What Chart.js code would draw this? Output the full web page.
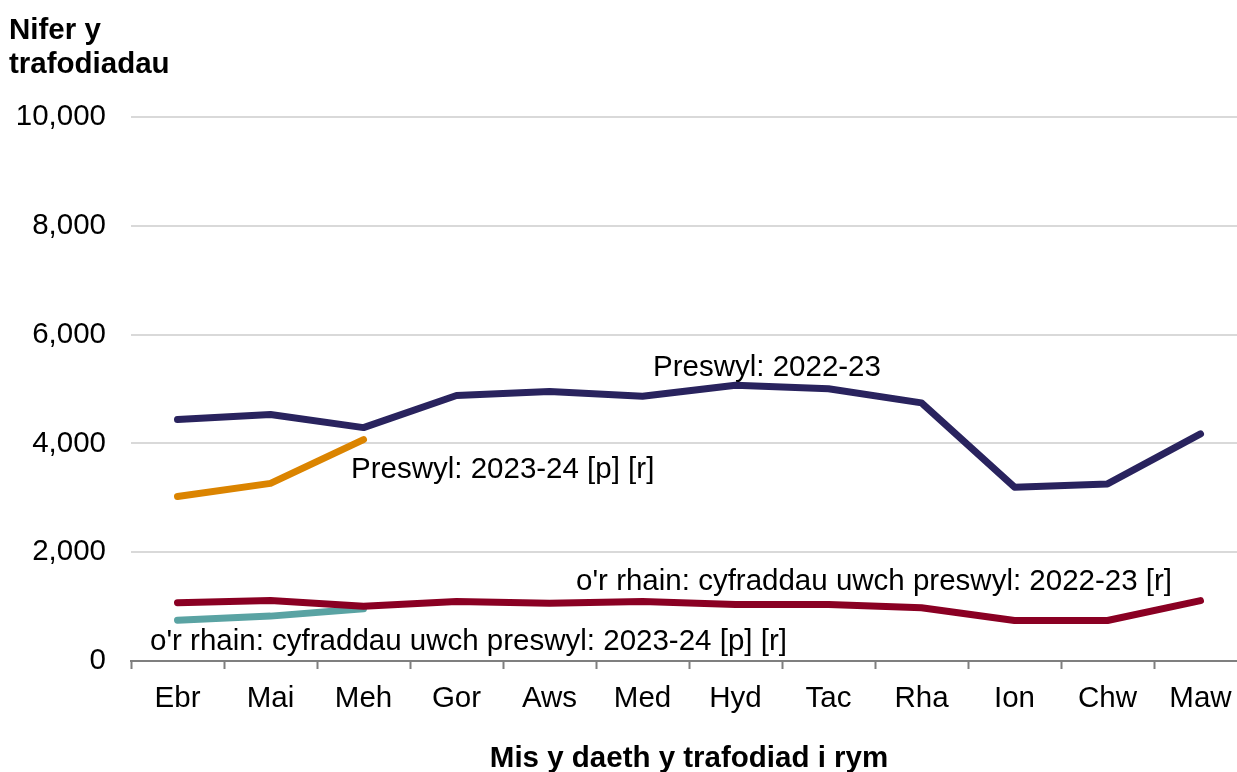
<!DOCTYPE html>
<html>
<head>
<meta charset="utf-8">
<script src="https://cdn.jsdelivr.net/npm/chart.js@4"></script>
<style>
  html, body { margin: 0; padding: 0; overflow: hidden; background: #fff; }
  #wrap { width: 1250px; height: 772px; }
</style>
</head>
<body>
<div id="wrap"><canvas id="chart" width="1250" height="772"></canvas></div>
<script>
// Months (Welsh abbreviations)
const months = ['Ebr', 'Mai', 'Meh', 'Gor', 'Aws', 'Med', 'Hyd', 'Tac', 'Rha', 'Ion', 'Chw', 'Maw']

// Series values
const preswyl2223 = [4440, 4530, 4290, 4880, 4955, 4865, 5070, 5005, 4745, 3195, 3255, 4175]
const preswyl2324 = [3025, 3265, 4070, null, null, null, null, null, null, null, null, null]
const uwch2223 = [1070, 1110, 1005, 1095, 1060, 1095, 1040, 1040, 980, 745, 745, 1110]
const uwch2324 = [750, 825, 960, null, null, null, null, null, null, null, null, null]

const yTicks = [0, 2000, 4000, 6000, 8000, 10000]

const FONT = 'Arial, "Liberation Sans", sans-serif'
const SIZE = 29.5

// Series labels placed next to the lines
const lineLabels = {
  id: 'lineLabels',
  afterDraw(chart) {
    const ctx = chart.ctx
    ctx.save()
    ctx.font = SIZE + 'px ' + FONT
    ctx.fillStyle = '#000'
    ctx.textBaseline = 'alphabetic'
    ctx.textAlign = 'left'
    ctx.fillText('Preswyl: 2022-23', 653, 376)
    ctx.fillText('Preswyl: 2023-24 [p] [r]', 351, 478)
    ctx.fillText("o'r rhain: cyfraddau uwch preswyl: 2023-24 [p] [r]", 150, 650)
    ctx.textAlign = 'right'
    ctx.fillText("o'r rhain: cyfraddau uwch preswyl: 2022-23 [r]", 1172, 590)
    // y axis title
    ctx.font = 'bold ' + SIZE + 'px ' + FONT
    ctx.textAlign = 'left'
    ctx.fillText('Nifer y', 9, 39)
    ctx.fillText('trafodiadau', 9, 73)
    ctx.restore()
  }
}

const lineStyle = {
  borderWidth: 7,
  pointRadius: 0,
  tension: 0,
  borderCapStyle: 'round',
  borderJoinStyle: 'round',
  spanGaps: false
}

new Chart(document.getElementById('chart'), {
  type: 'line',
  data: {
    labels: months,
    datasets: [
      { label: 'Preswyl: 2022-23', data: preswyl2223, borderColor: '#29235E', ...lineStyle },
      { label: 'Preswyl: 2023-24 [p] [r]', data: preswyl2324, borderColor: '#DB8400', ...lineStyle },
      { label: "o'r rhain: cyfraddau uwch preswyl: 2022-23 [r]", data: uwch2223, borderColor: '#8A0023', ...lineStyle },
      { label: "o'r rhain: cyfraddau uwch preswyl: 2023-24 [p] [r]", data: uwch2324, borderColor: '#5AA3A3', ...lineStyle }
    ]
  },
  options: {
    responsive: false,
    animation: false,
    layout: { padding: { top: 117, right: 3, left: 0, bottom: 0 } },
    plugins: {
      legend: { display: false },
      tooltip: { enabled: false }
    },
    scales: {
      x: {
        offset: true,
        grid: {
          offset: true,
          drawOnChartArea: false,
          drawTicks: true,
          tickLength: 8,
          tickWidth: 2,
          tickColor: '#7f7f7f'
        },
        border: { display: true, color: '#7f7f7f', width: 2 },
        ticks: {
          color: '#000',
          font: { family: FONT, size: SIZE },
          padding: 12,
          maxRotation: 0,
          autoSkip: false
        },
        title: {
          display: true,
          text: 'Mis y daeth y trafodiad i rym',
          color: '#000',
          font: { family: FONT, size: SIZE, weight: 'bold' },
          padding: { top: 0, bottom: -5 }
        },
        afterFit(scale) { scale.height = 111 }
      },
      y: {
        min: 0,
        max: 10000,
        afterBuildTicks(scale) { scale.ticks = yTicks.map(v => ({ value: v })) },
        grid: { color: '#d9d9d9', lineWidth: 2, drawTicks: false },
        border: { display: false },
        ticks: {
          color: '#000',
          font: { family: FONT, size: SIZE },
          padding: 25,
          callback: v => v.toLocaleString('en-GB')
        },
        afterFit(scale) { scale.width = 131 }
      }
    }
  },
  plugins: [lineLabels]
})
</script>
</body>
</html>
